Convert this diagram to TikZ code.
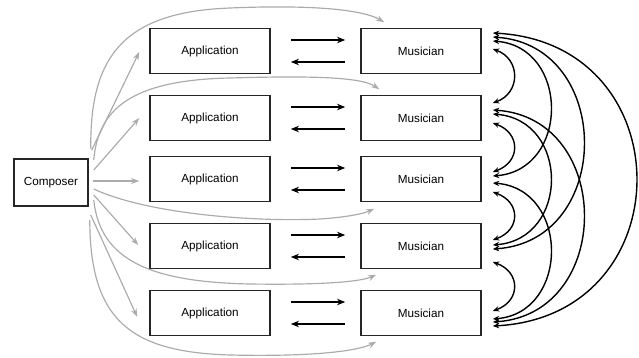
\documentclass[tikz,border=0pt]{standalone}
\usepackage{fontspec}
\setmainfont{Liberation Sans}
\usetikzlibrary{arrows.meta,calc}
\begin{document}
\begin{tikzpicture}[x=0.03cm,y=-0.03cm,
  box/.style={draw=black!85, line width=1.3pt, minimum width=3.6cm,
    minimum height=1.35cm, inner sep=0pt, font=\fontsize{10}{12}\selectfont},
  link/.style={line width=1.2pt, -{Stealth[length=7pt,width=5.5pt]}},
  feed/.style={draw=black!33, line width=1pt,
    -{Stealth[length=7pt,width=5pt,fill=black!33]}},
  peer/.style={line width=1.2pt,
    {Stealth[length=5.5pt,width=4.5pt]}-{Stealth[length=5.5pt,width=4.5pt]}}]
\useasboundingbox (0,0) rectangle (639,357);

% composer
\node[box, minimum width=2.22cm, minimum height=1.41cm] (comp) at (51,182.5) {Composer};

% application / musician rows
\foreach \i/\y in {1/51,2/118,3/179,4/246,5/313}{
  \node[box] (app\i) at (210,\y) {Application};
  \node[box] (mus\i) at (421,\y) {Musician};
  \draw[link] ($(app\i.east)+(20,-11)$) -- ($(mus\i.west)+(-15,-11)$);
  \draw[link] ($(mus\i.west)+(-15,11)$) -- ($(app\i.east)+(20,11)$);
}

% composer to applications
\draw[feed] ($(comp.east)+(3,-32.5)$) -- ($(app1.west)+(-10,1)$);
\draw[feed] ($(comp.east)+(5,-12.5)$) -- ($(app2.west)+(-10,0)$);
\draw[feed] ($(comp.east)+(4,-1.5)$) -- ($(app3.west)+(-10,2)$);
\draw[feed] ($(comp.east)+(5,12.5)$) -- ($(app4.west)+(-11,-1)$);
\draw[feed] ($(comp.east)+(2,32.5)$) -- ($(app5.west)+(-12,4)$);

% composer to musicians
\draw[feed] ($(comp.east)+(2,-34)$) .. controls (90,60) and (120,12) .. (230,8)
  .. controls (300,5) and (360,8) .. ($(mus1.north west)+(24,-5.5)$);
\draw[feed] ($(comp.east)+(5,-22.5)$) .. controls (98,110) and (130,80) .. (230,78)
  .. controls (300,76) and (360,76) .. ($(mus2.north west)+(19,-5.5)$);
\draw[feed] ($(comp.east)+(5,6.5)$) .. controls (150,215) and (260,222) .. (320,219)
  .. controls (350,217) and (365,213) .. ($(mus3.south west)+(14,6.5)$);
\draw[feed] ($(comp.east)+(5,17.5)$) .. controls (100,260) and (150,282) .. (250,284)
  .. controls (320,285) and (360,282) .. ($(mus4.south west)+(16,5.5)$);
\draw[feed] ($(comp.east)+(1,37.5)$) .. controls (90,320) and (130,352) .. (230,355)
  .. controls (320,357) and (360,350) .. ($(mus5.south west)+(16,5.5)$);

% musician to musician
\foreach \a/\b/\da/\db/\c/\d in {
  1/2/-2/-15/28/10, 2/3/5/-7/28/10, 3/4/13/-6/28/10, 4/5/16/-2/28/10,
  1/3/-10/-3/77/6, 2/4/-4/-1/77/6, 3/5/4/6/77/6,
  1/4/-14/3/121/8, 2/5/-8/9/121/8, 1/5/-18/13/191/10}{
  \draw[peer] ($(mus\a.east)+(11,\da)$) .. controls +(\c,\d) and +(\c,-\d)
    .. ($(mus\b.east)+(11,\db)$);
}
\end{tikzpicture}
\end{document}
